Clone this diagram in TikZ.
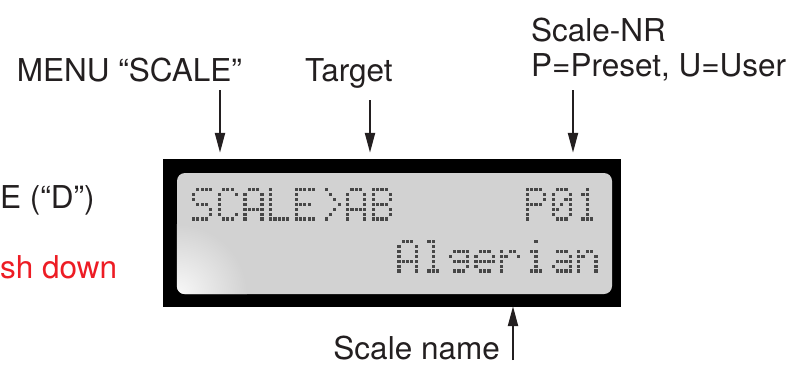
\documentclass[tikz,border=0pt]{standalone}
\usepackage{fontspec}
\setmainfont{TeX Gyre Heros}
\usetikzlibrary{arrows.meta}

\definecolor{ink}{HTML}{231F20}
\definecolor{pushred}{HTML}{ED1C24}
\definecolor{lcdgray}{HTML}{D2D2D2}
\definecolor{lcdpix}{HTML}{474747}

\newcommand\lblfont{\fontsize{31.5pt}{35pt}\selectfont}

% 5x7 glyphs of the display, five bits per row
\def\glyphS{01111,10000,10000,01110,00001,00001,11110}
\def\glyphC{01110,10001,10000,10000,10000,10001,01110}
\def\glyphA{01110,10001,10001,10001,11111,10001,10001}
\def\glyphL{10000,10000,10000,10000,10000,10000,11111}
\def\glyphE{11111,10000,10000,11110,10000,10000,11111}
\def\glyphgt{01000,00100,00010,00001,00010,00100,01000}
\def\glyphB{11110,10001,10001,11110,10001,10001,11110}
\def\glyphP{11110,10001,10001,11110,10000,10000,10000}
\expandafter\def\csname glyph0\endcsname{01110,10001,10011,10101,11001,10001,01110}
\expandafter\def\csname glyph1\endcsname{00100,01100,00100,00100,00100,00100,01110}
\def\glyphl{01100,00100,00100,00100,00100,00100,01110}
\def\glyphg{00000,00000,01111,10001,01111,00001,01110}
\def\glyphe{00000,00000,01110,10001,11111,10000,01110}
\def\glyphr{00000,00000,10110,11001,10000,10000,10000}
\def\glyphi{00100,00000,01100,00100,00100,00100,01110}
\def\glypha{00000,00000,01110,00001,01111,10001,01111}
\def\glyphn{00000,00000,10110,11001,10001,10001,10001}

% one character cell: column, line, glyph name
\newcommand\lcdchar[3]{%
  \edef\lcdcol{#1}\edef\lcdline{#2}%
  \edef\lcdglyph{\csname glyph#3\endcsname}%
  \foreach \bits [count=\rr from 0] in \lcdglyph {\expandafter\lcdrowbits\bits}}
\newcommand\lcdrowbits[5]{%
  \lcdbit{0}{#1}\lcdbit{1}{#2}\lcdbit{2}{#3}\lcdbit{3}{#4}\lcdbit{4}{#5}}
\newcommand\lcdbit[2]{%
  \ifnum#2=1 \fill[lcddot] ({192+(6*\lcdcol+#1)*4.28},{188+52*\lcdline+4.9*\rr})
    rectangle ++(3.2,3.4);\fi}

\begin{document}
\begin{tikzpicture}[
      x=1pt, y=-1pt,
      lbl/.style={font=\lblfont, text=ink, inner sep=0pt},
      arr/.style={->, draw=ink, line width=2.2pt},
      lcdframe/.style={fill=black, inner sep=0pt, minimum width=458pt, minimum height=148pt},
      panel/.style={fill=lcdgray, rounded corners=8pt, inner sep=0pt,
                    minimum width=435pt, minimum height=121pt},
      lcddot/.style={fill=lcdpix},
      >={Stealth[length=20pt, width=10pt, inset=0pt]},
    ]
    \useasboundingbox (0,0) rectangle (806,367);

    % display
    \node[lcdframe] (lcd) at (392,233) {};
    \node[panel] (panel) at (394.5,233.5) {};
    \begin{scope}
      \clip[rounded corners=8pt] (panel.south west) rectangle (panel.north east);
      \shade[inner color=white!85!lcdgray, outer color=lcdgray] (panel.south west) circle (70pt);
    \end{scope}
    \foreach \g [count=\k from 0] in {S,C,A,L,E,gt,A,B} {\lcdchar{\k}{0}{\g}}
    \foreach \g [count=\k from 13] in {P,0,1} {\lcdchar{\k}{0}{\g}}
    \foreach \g [count=\k from 8] in {A,l,g,e,r,i,a,n} {\lcdchar{\k}{1}{\g}}

    % labels
    \node[lbl, anchor=base east] (menu) at (242,81) {MENU “SCALE”};
    \node[lbl, anchor=base west] (target) at (305,81) {Target};
    \node[lbl, anchor=base west] (nr) at (531,41) {Scale-NR};
    \node[lbl, anchor=base west] (preset) at (531,76) {P=Preset, U=User};
    \node[lbl, anchor=base west] (mode) at (0,208) {E (“D”)};
    \node[lbl, anchor=base west, text=pushred] (push) at (0,278) {sh down};
    \node[lbl, anchor=base east] (name) at (500,359) {Scale name};

    % pointers
    \coordinate (menutail) at (220,90);
    \coordinate (targettail) at (370,100);
    \coordinate (nrtail) at (573,90);
    \coordinate (nametail) at (513,360);
    \draw[arr, shorten >=6pt] (menutail) -- (menutail |- lcd.north);
    \draw[arr, shorten >=6pt] (targettail) -- (targettail |- lcd.north);
    \draw[arr, shorten >=6pt] (nrtail) -- (nrtail |- lcd.north);
    \draw[arr, shorten >=-1pt] (nametail) -- (nametail |- lcd.south);
\end{tikzpicture}
\end{document}
